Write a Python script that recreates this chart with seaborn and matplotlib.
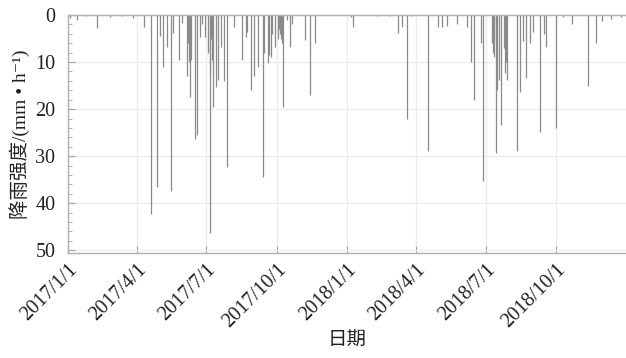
import pandas as pd
import matplotlib
matplotlib.use("Agg")
import matplotlib.pyplot as plt
from matplotlib.ticker import MultipleLocator
import seaborn as sns

# rainfall events (date, intensity mm/h)
rain_dates = [
    "2017-01-04", "2017-01-13", "2017-01-25", "2017-02-08", "2017-02-25", "2017-03-12",
    "2017-03-27", "2017-04-11", "2017-04-19", "2017-04-27", "2017-05-01", "2017-05-05",
    "2017-05-10", "2017-05-15", "2017-05-18", "2017-05-26", "2017-05-30", "2017-06-06",
    "2017-06-07", "2017-06-08", "2017-06-09", "2017-06-10", "2017-06-11", "2017-06-16",
    "2017-06-19", "2017-06-22", "2017-06-25", "2017-06-29", "2017-07-03", "2017-07-05",
    "2017-07-06", "2017-07-07", "2017-07-08", "2017-07-10", "2017-07-14", "2017-07-16",
    "2017-07-20", "2017-07-24", "2017-07-28", "2017-08-06", "2017-08-17", "2017-08-21",
    "2017-08-23", "2017-08-28", "2017-09-01", "2017-09-06", "2017-09-13", "2017-09-14",
    "2017-09-19", "2017-09-21", "2017-09-23", "2017-09-25", "2017-09-29", "2017-10-03",
    "2017-10-04", "2017-10-05", "2017-10-06", "2017-10-08", "2017-10-09", "2017-10-14",
    "2017-10-18", "2017-10-21", "2017-11-07", "2017-11-13", "2017-11-20",
    "2018-01-06", "2018-01-08", "2018-02-09", "2018-02-24", "2018-03-08", "2018-03-14",
    "2018-03-20", "2018-03-25", "2018-04-16", "2018-04-30", "2018-05-05", "2018-05-11",
    "2018-05-24", "2018-06-06", "2018-06-11", "2018-06-16", "2018-06-24", "2018-06-27",
    "2018-07-09", "2018-07-10", "2018-07-11", "2018-07-12", "2018-07-14", "2018-07-16",
    "2018-07-18", "2018-07-21", "2018-07-25", "2018-07-26", "2018-07-27", "2018-07-29",
    "2018-08-10", "2018-08-14", "2018-08-18", "2018-08-23", "2018-08-27", "2018-08-31",
    "2018-09-10", "2018-09-15", "2018-09-18", "2018-09-30", "2018-10-10", "2018-10-21",
    "2018-11-12", "2018-11-22", "2018-11-29", "2018-12-11", "2018-12-25",
]
rain_mm = [
    0.7, 1.0, 0.3, 2.7, 0.5, 0.3,
    0.6, 2.5, 42.3, 36.6, 4.5, 11.0,
    6.8, 37.3, 3.8, 9.6, 1.7, 13.0,
    6.0, 10.0, 8.0, 17.4, 9.6, 26.4,
    25.6, 4.7, 2.0, 4.7, 8.0, 12.3,
    46.4, 5.0, 9.6, 19.6, 15.3, 13.8,
    6.8, 14.0, 32.3, 2.5, 9.6, 4.7,
    3.5, 16.0, 13.0, 11.0, 34.5, 8.0,
    10.3, 8.5, 8.9, 4.0, 6.8, 5.0,
    3.0, 4.0, 5.0, 6.0, 19.5, 1.0,
    6.8, 2.0, 5.3, 17.0, 6.0,
    0.4, 2.5, 0.3, 0.3, 3.9, 2.5,
    22.0, 0.3, 29.0, 2.5, 2.6, 2.3,
    2.0, 2.5, 10.0, 18.0, 6.0, 35.3,
    6.0, 8.0, 9.0, 5.0, 29.4, 16.0,
    13.8, 23.4, 7.0, 12.3, 10.0, 13.8,
    29.0, 16.3, 5.5, 13.4, 6.0, 3.5,
    24.9, 4.0, 6.8, 24.0, 0.5, 2.0,
    15.0, 6.0, 1.2, 0.8, 0.5,
]
tick_dates = ["2017-01-01", "2017-04-01", "2017-07-01", "2017-10-01",
              "2018-01-01", "2018-04-01", "2018-07-01", "2018-10-01"]
tick_labels = ["2017/1/1", "2017/4/1", "2017/7/1", "2017/10/1",
               "2018/1/1", "2018/4/1", "2018/7/1", "2018/10/1"]

df = pd.DataFrame({"date": pd.to_datetime(rain_dates), "rain": rain_mm})

sns.set_theme(style="whitegrid")
fonts = ["Liberation Serif", "Noto Sans CJK SC", "DejaVu Sans"]
plt.rcParams["font.family"] = fonts

fig = plt.figure(figsize=(6.26, 3.58), dpi=100)
ax = fig.add_axes([0.1085, 0.293, 0.8915, 0.665])

ax.vlines(df["date"], 0, df["rain"], color="#8a8a8a", linewidth=0.9)

ax.set_xlim(pd.Timestamp("2017-01-01"), pd.Timestamp("2018-12-31"))
ax.set_ylim(50.6, 0)
ax.set_xticks(pd.to_datetime(tick_dates))
ax.set_xticklabels(tick_labels, rotation=45, ha="right", rotation_mode="anchor")
ax.yaxis.set_major_locator(MultipleLocator(10))
ax.yaxis.set_minor_locator(MultipleLocator(2))

ax.grid(True, which="major", color="#ececec", linewidth=1.0)
ax.set_facecolor("white")
ax.spines["right"].set_visible(False)
for side in ["left", "bottom", "top"]:
    ax.spines[side].set_visible(True)
    ax.spines[side].set_color("#b0b0b0")
    ax.spines[side].set_linewidth(1.0)

ax.tick_params(axis="both", which="both", direction="in", color="#a0a0a0",
               labelsize=14.5, labelcolor="#222222")
ax.tick_params(axis="y", which="major", length=5, width=0.8, left=True, pad=9)
ax.tick_params(axis="y", which="minor", length=3, width=0.6, left=True)
ax.tick_params(axis="x", which="major", length=5, width=0.8, bottom=True, pad=5)

ax.set_ylabel("降雨强度/(mm • h⁻¹)", fontsize=14, color="#222222", labelpad=4)
ax.set_xlabel("日期", fontsize=14, color="#222222", labelpad=0)

fig.savefig("out.png", dpi=100)
